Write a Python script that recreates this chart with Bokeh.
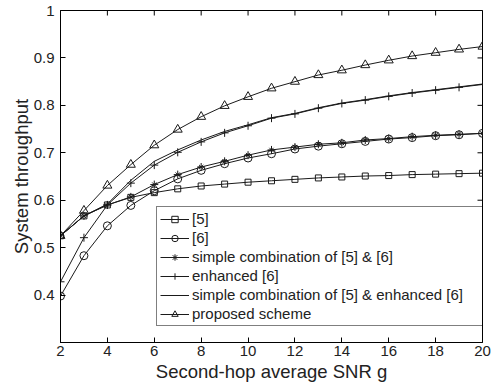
import math
from bokeh.plotting import figure
from bokeh.models import Legend, LegendItem, FixedTicker, Range1d
from bokeh.embed import file_html
from bokeh.resources import INLINE

snr = list(range(2, 21))
ref5 = [0.525, 0.567, 0.590, 0.606, 0.616, 0.624, 0.630, 0.634, 0.638, 0.641,
        0.644, 0.647, 0.649, 0.651, 0.652, 0.654, 0.655, 0.656, 0.657]
ref6 = [0.398, 0.483, 0.546, 0.589, 0.620, 0.645, 0.663, 0.677, 0.689, 0.698,
        0.708, 0.714, 0.719, 0.724, 0.729, 0.732, 0.736, 0.738, 0.741]
simple_comb = [0.525, 0.567, 0.590, 0.607, 0.633, 0.654, 0.670, 0.682, 0.695, 0.706,
               0.712, 0.718, 0.721, 0.727, 0.730, 0.734, 0.737, 0.739, 0.741]
enhanced6 = [0.428, 0.521, 0.590, 0.636, 0.674, 0.701, 0.723, 0.742, 0.757, 0.773,
             0.782, 0.794, 0.804, 0.811, 0.819, 0.826, 0.832, 0.838, 0.844]
simple_comb_enh = [0.525, 0.567, 0.592, 0.642, 0.682, 0.706, 0.727, 0.745, 0.759, 0.774,
                   0.783, 0.795, 0.805, 0.812, 0.820, 0.827, 0.833, 0.839, 0.845]
proposed = [0.525, 0.578, 0.631, 0.675, 0.716, 0.749, 0.776, 0.799, 0.818, 0.836,
            0.850, 0.864, 0.874, 0.885, 0.895, 0.904, 0.911, 0.918, 0.924]

labels = ["[5]", "[6]", "simple combination of [5] & [6]", "enhanced [6]",
          "simple combination of [5] & enhanced [6]", "proposed scheme"]
x_ticks = [2, 4, 6, 8, 10, 12, 14, 16, 18, 20]
y_ticks = [0.4, 0.5, 0.6, 0.7, 0.8, 0.9, 1.0]
x_min, x_max = 2, 20
y_min, y_max = 0.3, 1.0

FONT = "Liberation Sans"
LC = "#1a1a1a"
TC = "#222222"

p = figure(width=495, height=385, output_backend="svg", toolbar_location=None,
           x_range=Range1d(x_min, x_max), y_range=Range1d(y_min, y_max),
           min_border_left=60, min_border_right=13, min_border_top=10, min_border_bottom=43)
p.background_fill_color = "white"
p.border_fill_color = "white"
p.outline_line_color = "black"
p.outline_line_width = 1
p.grid.visible = False

xa = p.xaxis[0]
ya = p.yaxis[0]
xa.ticker = FixedTicker(ticks=x_ticks)
ya.ticker = FixedTicker(ticks=y_ticks)
ya.major_label_overrides = {1: "1"}
for ax in (xa, ya):
    ax.axis_line_color = "black"
    ax.major_tick_line_color = "black"
    ax.major_tick_in = 5
    ax.major_tick_out = 0
    ax.minor_tick_line_color = None
    ax.major_label_text_font = FONT
    ax.major_label_text_color = TC
    ax.major_label_text_font_size = "15px"
    ax.axis_label_text_font = FONT
    ax.axis_label_text_font_size = "18.5px"
    ax.axis_label_text_font_style = "normal"
    ax.axis_label_text_color = TC
xa.major_label_standoff = 3
ya.major_label_standoff = 6
xa.axis_label = "Second-hop average SNR g"
ya.axis_label = "System throughput"
xa.axis_label_standoff = 2
ya.axis_label_standoff = -1

# tick marks on the top and right edges of the box (half clipped by the frame)
p.scatter(x_ticks, [y_max] * len(x_ticks), marker="dash", size=10, angle=math.pi / 2,
          line_color="black", line_width=1)
p.scatter([x_max] * len(y_ticks), y_ticks, marker="dash", size=10,
          line_color="black", line_width=1)

items = []

l = p.line(snr, ref5, line_color=LC, line_width=1)
s = p.scatter(snr, ref5, marker="square", size=6, line_color=LC, fill_color=None)
items.append(LegendItem(label=labels[0], renderers=[l, s]))

l = p.line(snr, ref6, line_color=LC, line_width=1)
s = p.scatter(snr, ref6, marker="circle", size=8, line_color=LC, fill_color=None)
items.append(LegendItem(label=labels[1], renderers=[l, s]))

l = p.line(snr, simple_comb, line_color=LC, line_width=1)
s1 = p.scatter(snr, simple_comb, marker="cross", size=8, line_color=LC)
s2 = p.scatter(snr, simple_comb, marker="x", size=6, line_color=LC)
items.append(LegendItem(label=labels[2], renderers=[l, s1, s2]))

l = p.line(snr, enhanced6, line_color=LC, line_width=1)
s = p.scatter(snr, enhanced6, marker="cross", size=8, line_color=LC)
items.append(LegendItem(label=labels[3], renderers=[l, s]))

l = p.line(snr, simple_comb_enh, line_color=LC, line_width=1)
items.append(LegendItem(label=labels[4], renderers=[l]))

l = p.line(snr, proposed, line_color=LC, line_width=1)
s = p.scatter(snr, proposed, marker="triangle", size=9, line_color=LC, fill_color=None)
items.append(LegendItem(label=labels[5], renderers=[l, s]))

legend = Legend(items=items, location=(96, 16), margin=0, padding=3,
                spacing=2, label_height=16, glyph_height=16, glyph_width=29,
                label_width=287, label_standoff=3,
                label_text_font=FONT, label_text_font_size="15px",
                label_text_color=TC,
                border_line_color="black", border_line_width=1,
                background_fill_color="white", background_fill_alpha=1.0)
p.add_layout(legend, "center")

open("out.html", "w").write(file_html(p, INLINE))
